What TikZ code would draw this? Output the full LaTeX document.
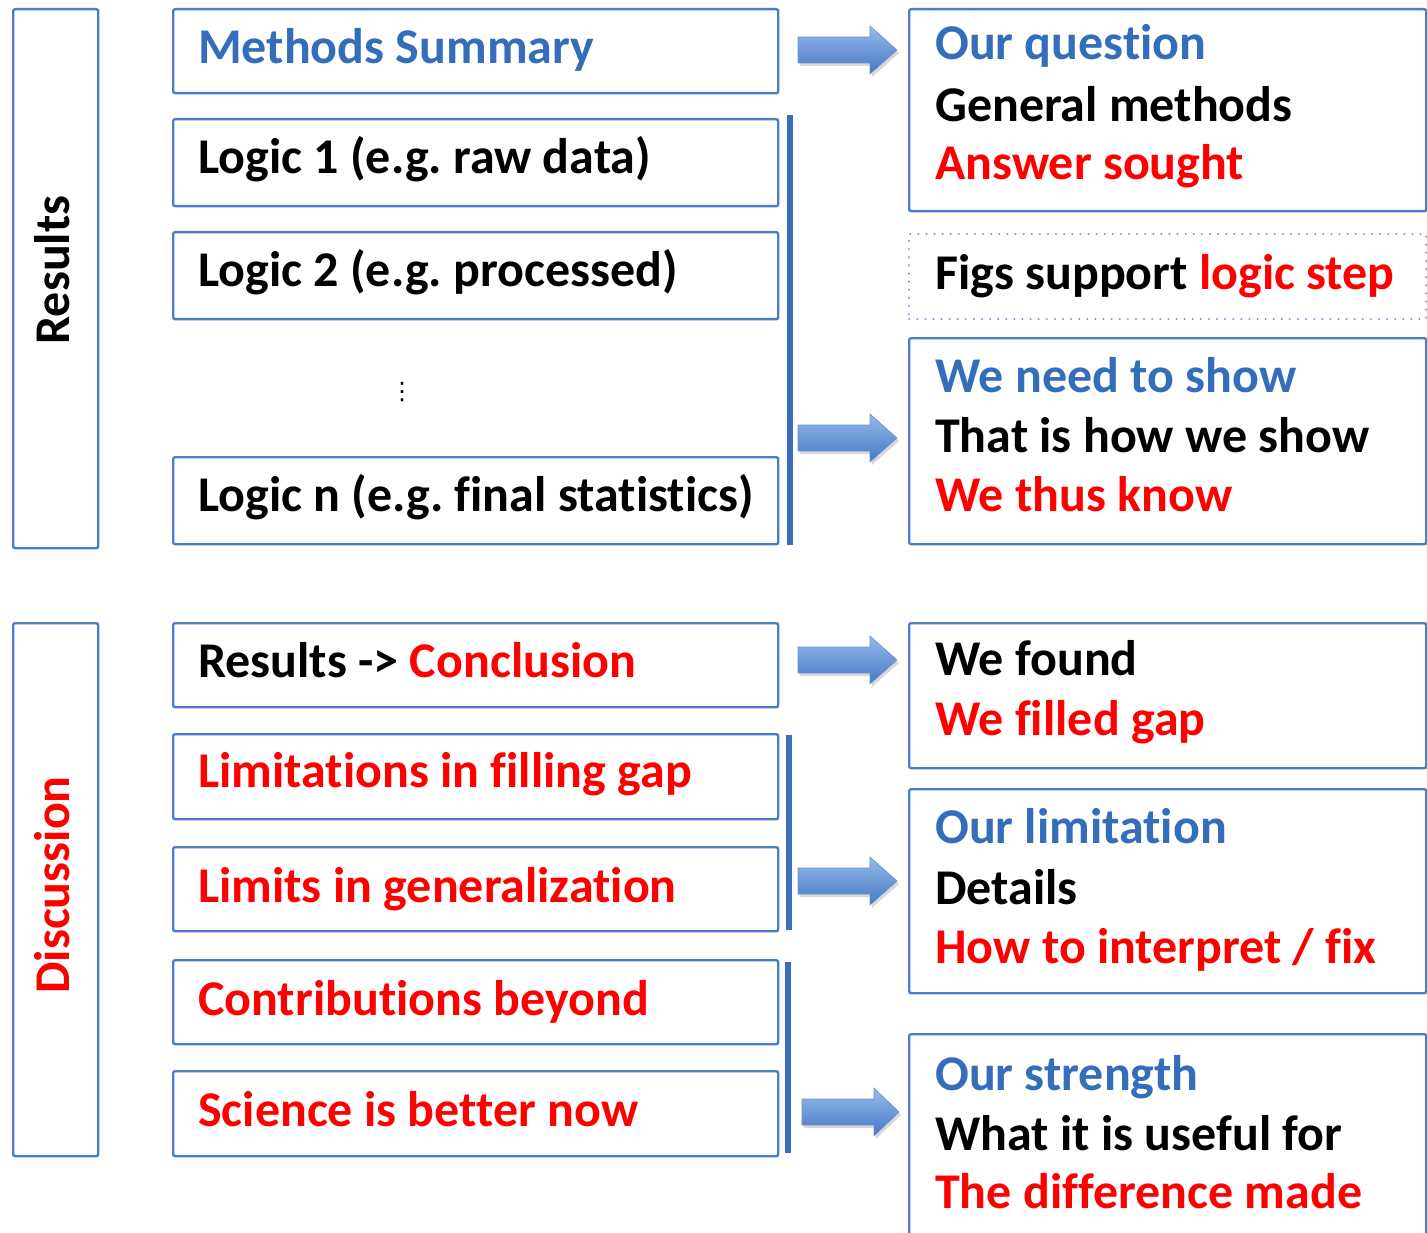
\documentclass[tikz,border=0pt]{standalone}
\usepackage{fontspec}
\setmainfont{Carlito}[Ligatures=CommonOff]
\newfontfamily\symfont{DejaVu Sans}
\usetikzlibrary{shadows}
\frenchspacing
\definecolor{boxblue}{RGB}{74,126,197}
\definecolor{txtblue}{RGB}{52,110,186}
\definecolor{txtred}{RGB}{255,0,0}
\definecolor{arrtop}{RGB}{150,186,236}
\definecolor{arrbot}{RGB}{70,120,196}
\definecolor{barblue}{RGB}{60,110,190}
\tikzset{
  box/.style={draw=boxblue, line width=2.4pt, rounded corners=2pt, minimum width=#1, anchor=north west, inner sep=0pt, fill=white},
  dotbox/.style={draw=boxblue!80, line width=2.2pt, dash pattern=on 0.1pt off 8pt, line cap=round, anchor=north west, inner sep=0pt},
  txt/.style={font=\fontsize{50}{60}\selectfont\bfseries, inner sep=0pt, anchor=base west},
  side/.style={font=\fontsize{50}{60}\selectfont\bfseries, inner sep=0pt, rotate=90},
  vbar/.style={draw=barblue, line width=6pt},
  blk/.style={top color=arrtop, bottom color=arrbot, draw=arrbot!80, line width=0.6pt,
    drop shadow={shadow xshift=2pt, shadow yshift=-3pt, opacity=0.25, fill=black!60}},
}
\newcommand{\blkarrow}[3]{%
  \path[blk] (#1,#2-13) -- (#1+72,#2-13) -- (#1+72,#2-24) -- (#3,#2) -- (#1+72,#2+24) -- (#1+72,#2+13) -- (#1,#2+13) -- cycle;}
\begin{document}
\begin{tikzpicture}[x=1pt,y=-1pt]
\useasboundingbox[fill=white] (0,0) rectangle (1427,1233);
% side boxes
\node[box=85pt, minimum height=539pt] (resbox) at (12,8) {};
\node[side, black] (reslbl) at (52,270) {Results};
\node[box=85pt, minimum height=533pt] (disbox) at (12,622) {};
\node[side, txtred] (dislbl) at (52,885) {Discussion};
% left column
\node[box=605pt, minimum height=84pt] (ms) at (172,8) {};
\node[txt, txtblue] (mst) at (198,64) {Methods Summary};
\node[box=605pt, minimum height=87pt] (l1) at (172,118) {};
\node[txt] (l1t) at (198,174) {Logic 1 (e.g. raw data)};
\node[box=605pt, minimum height=87pt] (l2) at (172,231) {};
\node[txt] (l2t) at (198,287) {Logic 2 (e.g. processed)};
\node[font=\symfont\fontsize{24}{24}\selectfont, inner sep=0pt] (dots) at (402,392) {⋮};
\node[box=605pt, minimum height=87pt] (ln) at (172,456) {};
\node[txt] (lnt) at (198,511) {Logic n (e.g. final statistics)};
\node[box=605pt, minimum height=84pt] (rc) at (172,622) {};
\node[txt] (rct) at (198,677) {Results -> \textcolor{txtred}{Conclusion}};
\node[box=605pt, minimum height=85pt] (lf) at (172,733) {};
\node[txt, txtred] (lft) at (198,787) {Limitations in filling gap};
\node[box=605pt, minimum height=84pt] (lg) at (172,846) {};
\node[txt, txtred] (lgt) at (198,902) {Limits in generalization};
\node[box=605pt, minimum height=84pt] (cb) at (172,959) {};
\node[txt, txtred] (cbt) at (198,1015) {Contributions beyond};
\node[box=605pt, minimum height=85pt] (sb) at (172,1070) {};
\node[txt, txtred] (sbt) at (198,1126) {Science is better now};
% vertical bars
\coordinate (v1a) at (790,115); \coordinate (v1b) at (790,545);
\coordinate (v2a) at (789,735); \coordinate (v2b) at (789,930);
\coordinate (v3a) at (788,962); \coordinate (v3b) at (788,1153);
\draw[vbar] (v1a) -- (v1b);
\draw[vbar] (v2a) -- (v2b);
\draw[vbar] (v3a) -- (v3b);
% right column
\node[box=517pt, minimum height=202pt] (oq) at (908,8) {};
\node[txt, txtblue] (oq1) at (935,60) {Our question};
\node[txt] (oq2) at (935,122) {General methods};
\node[txt, txtred] (oq3) at (935,180) {Answer sought};
\node[dotbox, minimum width=517pt, minimum height=85pt] (fs) at (908,233) {};
\node[txt] (fst) at (935,290) {Figs support \textcolor{txtred}{logic step}};
\node[box=517pt, minimum height=206pt] (ns) at (908,337) {};
\node[txt, txtblue] (ns1) at (935,392) {We need to show};
\node[txt] (ns2) at (935,452) {That is how we show};
\node[txt, txtred] (ns3) at (935,511) {We thus know};
\node[box=517pt, minimum height=145pt] (wf) at (908,622) {};
\node[txt] (wf1) at (935,675) {We found};
\node[txt, txtred] (wf2) at (935,735) {We filled gap};
\node[box=517pt, minimum height=204pt] (ol) at (908,788) {};
\node[txt, txtblue] (ol1) at (935,843) {Our limitation};
\node[txt] (ol2) at (935,904) {Details};
\node[txt, txtred] (ol3) at (935,963) {How to interpret / fix};
\node[box=517pt, minimum height=215pt] (os) at (908,1033) {};
\node[txt, txtblue] (os1) at (935,1090) {Our strength};
\node[txt] (os2) at (935,1150) {What it is useful for};
\node[txt, txtred] (os3) at (935,1208) {The difference made};
% block arrows
\blkarrow{798}{50}{897}
\blkarrow{798}{438}{897}
\blkarrow{798}{660}{897}
\blkarrow{798}{881}{897}
\blkarrow{802}{1112}{899}
\end{tikzpicture}
\end{document}
